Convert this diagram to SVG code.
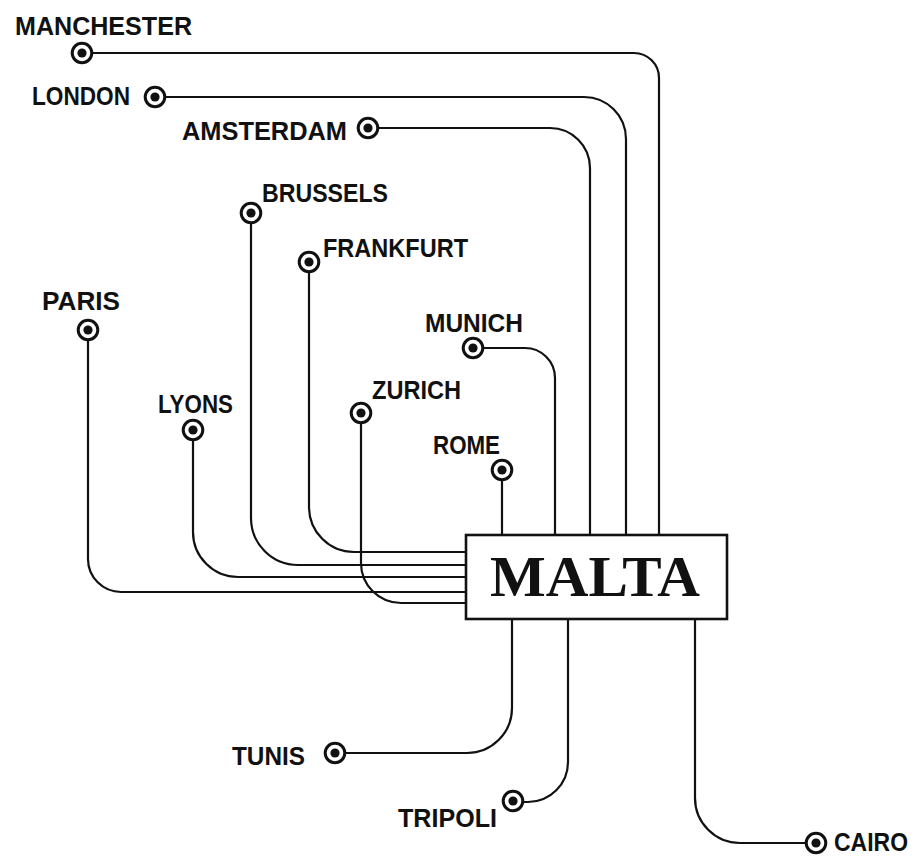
<svg xmlns="http://www.w3.org/2000/svg" xmlns:xlink="http://www.w3.org/1999/xlink" width="923" height="856" viewBox="0 0 923 856">
<style>
.ln{fill:none;stroke:#111;stroke-width:2.2}
.lb{font-family:"Liberation Sans",Arial,sans-serif;font-weight:bold;font-size:26px;fill:#111}
.mt{font-family:"Liberation Serif","Times New Roman",serif;font-weight:bold;font-size:58px;fill:#111}
</style>
<defs>
<g id="mk"><circle r="9.8" fill="#fff" stroke="#111" stroke-width="3"/><circle r="4.6" fill="#111"/></g>
</defs>
<rect width="923" height="856" fill="#fff"/>
<g id="connectors">
<path class="ln" d="M82,53 H634 A25,25 0 0 1 659,78 V535"/>
<path class="ln" d="M155,97 H584 A42,42 0 0 1 626,139 V535"/>
<path class="ln" d="M368,128 H550 A40,40 0 0 1 590,168 V535"/>
<path class="ln" d="M251,213 V518 A47,47 0 0 0 298,565 H466"/>
<path class="ln" d="M309,262 V507 A45,45 0 0 0 354,552 H466"/>
<path class="ln" d="M88,330 V559 A33,33 0 0 0 121,592 H466"/>
<path class="ln" d="M193,430 V532 A45,45 0 0 0 238,577 H466"/>
<path class="ln" d="M361,413 V563 A40,40 0 0 0 401,603 H466"/>
<path class="ln" d="M473,348 H525 A30,30 0 0 1 555,378 V535"/>
<path class="ln" d="M502,470 V535"/>
<path class="ln" d="M512,619 V708 A45,45 0 0 1 467,753 H335"/>
<path class="ln" d="M568,619 V762 A40,40 0 0 1 528,802 H513"/>
<path class="ln" d="M695,619 V798 A45,45 0 0 0 740,843 H816"/>
</g>
<g id="malta"><rect x="466" y="535" width="261" height="84" fill="#fff" stroke="#111" stroke-width="2.6"/><text class="mt" x="490" y="596" textLength="210" lengthAdjust="spacingAndGlyphs">MALTA</text></g>
<g id="manchester"><use xlink:href="#mk" href="#mk" x="82" y="53"/><text class="lb" x="15" y="35" textLength="177" lengthAdjust="spacingAndGlyphs">MANCHESTER</text></g>
<g id="london"><use xlink:href="#mk" href="#mk" x="155" y="97"/><text class="lb" x="32" y="105" textLength="98" lengthAdjust="spacingAndGlyphs">LONDON</text></g>
<g id="amsterdam"><use xlink:href="#mk" href="#mk" x="368" y="128"/><text class="lb" x="182" y="140" textLength="165" lengthAdjust="spacingAndGlyphs">AMSTERDAM</text></g>
<g id="brussels"><use xlink:href="#mk" href="#mk" x="251" y="213"/><text class="lb" x="262" y="202" textLength="126" lengthAdjust="spacingAndGlyphs">BRUSSELS</text></g>
<g id="frankfurt"><use xlink:href="#mk" href="#mk" x="309" y="262"/><text class="lb" x="323" y="257" textLength="145" lengthAdjust="spacingAndGlyphs">FRANKFURT</text></g>
<g id="paris"><use xlink:href="#mk" href="#mk" x="88" y="330"/><text class="lb" x="42" y="310" textLength="78" lengthAdjust="spacingAndGlyphs">PARIS</text></g>
<g id="munich"><use xlink:href="#mk" href="#mk" x="473" y="348"/><text class="lb" x="425" y="332" textLength="98" lengthAdjust="spacingAndGlyphs">MUNICH</text></g>
<g id="lyons"><use xlink:href="#mk" href="#mk" x="193" y="430"/><text class="lb" x="158" y="413" textLength="75" lengthAdjust="spacingAndGlyphs">LYONS</text></g>
<g id="zurich"><use xlink:href="#mk" href="#mk" x="361" y="413"/><text class="lb" x="372" y="399" textLength="89" lengthAdjust="spacingAndGlyphs">ZURICH</text></g>
<g id="rome"><use xlink:href="#mk" href="#mk" x="502" y="470"/><text class="lb" x="433" y="454" textLength="67" lengthAdjust="spacingAndGlyphs">ROME</text></g>
<g id="tunis"><use xlink:href="#mk" href="#mk" x="335" y="753"/><text class="lb" x="232" y="765" textLength="73" lengthAdjust="spacingAndGlyphs">TUNIS</text></g>
<g id="tripoli"><use xlink:href="#mk" href="#mk" x="513" y="801"/><text class="lb" x="398" y="827" textLength="99" lengthAdjust="spacingAndGlyphs">TRIPOLI</text></g>
<g id="cairo"><use xlink:href="#mk" href="#mk" x="816" y="843"/><text class="lb" x="834" y="851" textLength="74" lengthAdjust="spacingAndGlyphs">CAIRO</text></g>
</svg>
